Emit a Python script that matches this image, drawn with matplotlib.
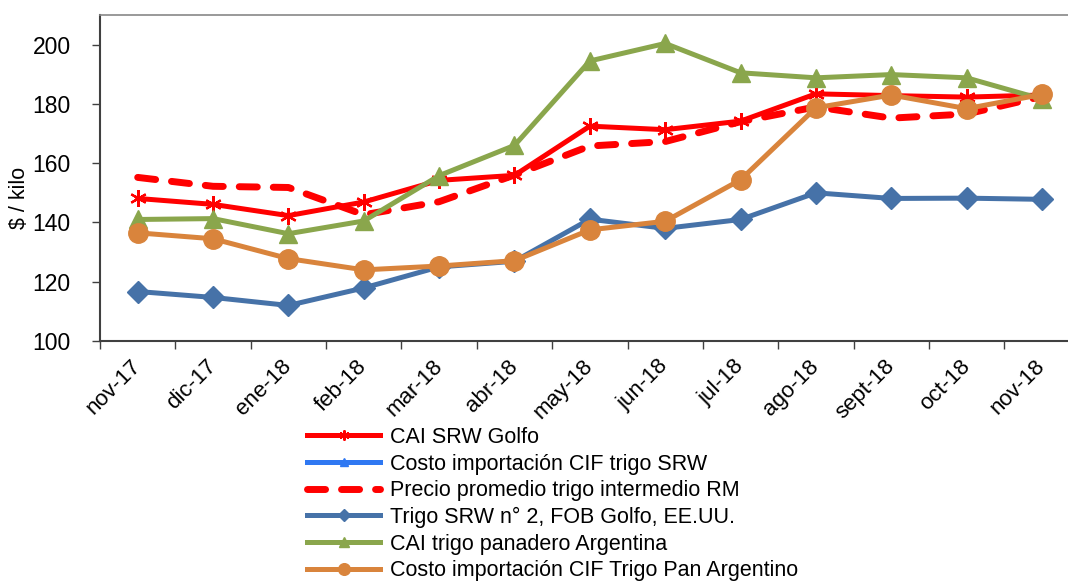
import numpy as np
import matplotlib
matplotlib.use('Agg')
import matplotlib.pyplot as plt
from matplotlib.ticker import FixedLocator

plt.rcParams['font.family'] = ['Liberation Sans', 'DejaVu Sans']

# Data ($ / kilo)
months = ['nov-17', 'dic-17', 'ene-18', 'feb-18', 'mar-18', 'abr-18', 'may-18',
          'jun-18', 'jul-18', 'ago-18', 'sept-18', 'oct-18', 'nov-18']
cai_srw_golfo = [148.1, 146.1, 142.3, 146.9, 154.2, 155.9, 172.5, 171.3, 174.2, 183.4, 182.8, 182.3, 183.0]
cif_trigo_srw = [np.nan] * 13   # only in the legend, no values shown
precio_rm = [155.2, 152.2, 151.8, 142.6, 147.0, 156.0, 165.8, 167.3, 174.0, 179.0, 175.2, 176.6, 182.5]
trigo_srw_fob = [116.7, 114.7, 112.0, 117.9, 125.0, 126.9, 141.1, 138.0, 141.0, 150.0, 148.1, 148.2, 147.8]
cai_panadero = [141.0, 141.3, 136.2, 140.5, 155.8, 166.0, 194.5, 200.4, 190.5, 188.8, 189.9, 188.8, 181.6]
cif_pan_arg = [136.5, 134.5, 127.8, 124.0, 125.3, 127.1, 137.5, 140.4, 154.4, 178.7, 183.0, 178.4, 183.2]

fig = plt.figure(figsize=(10.68, 5.83), dpi=100)
ax = fig.add_axes([100 / 1068, 1 - 341 / 583, 979.7 / 1068, 326 / 583])

x = np.arange(len(months))

ax.plot(x, cai_srw_golfo, color='#FF0000', lw=3.6, marker=(6, 2, 0), ms=12, mew=1.6,
        label='CAI SRW Golfo')
ax.plot(x, cif_trigo_srw, color='#2F78F2', lw=3.6, marker='^', ms=10,
        label='Costo importación CIF trigo SRW')
ax.plot(x, precio_rm, color='#FF0000', lw=5, linestyle=(0, (2.6, 2.3)), dash_capstyle='round',
        label='Precio promedio trigo intermedio RM')
ax.plot(x, trigo_srw_fob, color='#4672A8', lw=3.6, marker='D', ms=11,
        label='Trigo SRW n° 2, FOB Golfo, EE.UU.')
ax.plot(x, cai_panadero, color='#8AA64C', lw=3.6, marker='^', ms=13,
        label='CAI trigo panadero Argentina')
ax.plot(x, cif_pan_arg, color='#D9843C', lw=3.6, marker='o', ms=14,
        label='Costo importación CIF Trigo Pan Argentino')

ax.set_xlim(-0.5, len(months) - 0.5)
ax.set_ylim(100, 210)
ax.set_yticks([100, 120, 140, 160, 180, 200])

# labels at the category centres, tick marks on the boundaries
ax.set_xticks(x)
ax.set_xticklabels(months, rotation=45, ha='right', va='center', rotation_mode='anchor')
ax.xaxis.set_minor_locator(FixedLocator(np.arange(-0.5, len(months), 1.0)))
ax.tick_params(axis='x', which='major', length=0, pad=16, labelsize=16)
ax.tick_params(axis='x', which='minor', length=6, width=1, color='#404040')
ax.tick_params(axis='y', length=6, width=1, color='#404040', pad=15, labelsize=16.5)

for side in ['left', 'bottom']:
    ax.spines[side].set_color('#404040')
    ax.spines[side].set_linewidth(1.5)
ax.spines['top'].set_color('#888888')
ax.spines['top'].set_linewidth(1.2)
ax.spines['right'].set_visible(False)

ax.set_ylabel('\\$ / kilo', fontsize=15.5)
ax.yaxis.set_label_coords(-0.0715, 0.44)

leg = fig.legend(loc='upper left', bbox_to_anchor=(307 / 1068, 1 - 427 / 583),
                 frameon=False, fontsize=15.5, handlelength=3.4, handletextpad=0.45,
                 labelspacing=0.26, borderpad=0, borderaxespad=0, markerscale=0.6)

fig.savefig('out.png', dpi=100)
